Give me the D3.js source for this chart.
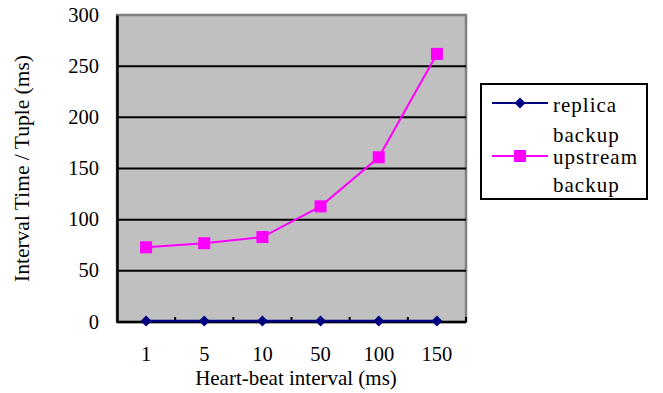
<!DOCTYPE html>
<html>
<head>
<meta charset="utf-8">
<script src="https://cdn.jsdelivr.net/npm/d3@7"></script>
<style>
  body { margin: 0; background: #fff; }
  svg text { font-family: "Liberation Serif", "Times New Roman", serif; fill: #000; }
</style>
</head>
<body>
<svg id="chart" width="663" height="393"></svg>
<script>
// données
const intervals = ["1", "5", "10", "50", "100", "150"];
const replicaBackup = [1, 1, 1, 1, 1, 1];
const upstreamBackup = [73, 77, 83, 113, 161, 262];
const yTicks = [0, 50, 100, 150, 200, 250, 300];
const seriesNames = [["replica", "backup"], ["upstream", "backup"]];
const seriesColors = ["#000080", "#FF00FF"];

const svg = d3.select("#chart");

const plot = { left: 117, top: 15, right: 466, bottom: 322 };

const x = d3.scaleBand()
    .domain(intervals)
    .range([plot.left, plot.right]);

const y = d3.scaleLinear()
    .domain([0, 300])
    .range([plot.bottom, plot.top]);

// fond gris de la zone de tracé
svg.append("rect")
    .attr("x", plot.left)
    .attr("y", plot.top)
    .attr("width", plot.right - plot.left)
    .attr("height", plot.bottom - plot.top)
    .attr("fill", "#C0C0C0")
    .attr("stroke", "#808080")
    .attr("stroke-width", 2.5);

// lignes de grille
svg.append("g")
    .selectAll("line")
    .data(yTicks.filter(d => d > 0 && d < 300))
    .enter()
    .append("line")
    .attr("x1", plot.left)
    .attr("x2", plot.right)
    .attr("y1", d => y(d))
    .attr("y2", d => y(d))
    .attr("stroke", "#000")
    .attr("stroke-width", 2);

// axe Y
const yAxis = svg.append("g")
    .attr("transform", `translate(${plot.left},0)`)
    .call(d3.axisLeft(y).tickValues(yTicks).tickSize(0).tickPadding(18));
yAxis.attr("font-family", null).attr("font-size", null);
yAxis.select(".domain").attr("stroke", "#000").attr("stroke-width", 2.5);
yAxis.selectAll("text")
    .style("font-size", "20.5px")
    .attr("dy", "0.3em");

// axe X (graduations vers l'intérieur, aux frontières des catégories)
const xAxis = svg.append("g")
    .attr("transform", `translate(0,${plot.bottom})`);
xAxis.append("line")
    .attr("x1", plot.left)
    .attr("x2", plot.right)
    .attr("y1", 0)
    .attr("y2", 0)
    .attr("stroke", "#000")
    .attr("stroke-width", 2.5);
xAxis.selectAll(".xtick")
    .data(intervals)
    .enter()
    .append("line")
    .attr("class", "xtick")
    .attr("x1", d => x(d) + x.bandwidth())
    .attr("x2", d => x(d) + x.bandwidth())
    .attr("y1", 0)
    .attr("y2", -5)
    .attr("stroke", "#000")
    .attr("stroke-width", 2);
xAxis.selectAll(".xlabel")
    .data(intervals)
    .enter()
    .append("text")
    .attr("class", "xlabel")
    .attr("x", d => x(d) + x.bandwidth() / 2)
    .attr("y", 39)
    .attr("text-anchor", "middle")
    .style("font-size", "20.5px")
    .text(d => d);

// titres des axes
svg.append("text")
    .attr("x", 296)
    .attr("y", 385)
    .attr("text-anchor", "middle")
    .style("font-size", "21px")
    .text("Heart-beat interval (ms)");

svg.append("text")
    .attr("transform", "translate(29,168.5) rotate(-90)")
    .attr("text-anchor", "middle")
    .style("font-size", "21.5px")
    .text("Interval Time / Tuple (ms)");

// séries
const line = d3.line()
    .x((d, i) => x(intervals[i]) + x.bandwidth() / 2)
    .y(d => y(d));

svg.append("path")
    .datum(upstreamBackup)
    .attr("fill", "none")
    .attr("stroke", seriesColors[1])
    .attr("stroke-width", 2)
    .attr("d", line);

svg.append("path")
    .datum(replicaBackup)
    .attr("fill", "none")
    .attr("stroke", seriesColors[0])
    .attr("stroke-width", 2.5)
    .attr("d", line);

svg.append("g")
    .selectAll("rect")
    .data(upstreamBackup)
    .enter()
    .append("rect")
    .attr("x", (d, i) => x(intervals[i]) + x.bandwidth() / 2 - 6)
    .attr("y", d => y(d) - 6)
    .attr("width", 12)
    .attr("height", 12)
    .attr("fill", seriesColors[1]);

const diamond = d3.symbol().type(d3.symbolSquare).size(60);
svg.append("g")
    .selectAll("path")
    .data(replicaBackup)
    .enter()
    .append("path")
    .attr("d", diamond)
    .attr("transform", (d, i) => `translate(${x(intervals[i]) + x.bandwidth() / 2},${y(d)}) rotate(45)`)
    .attr("fill", seriesColors[0]);

// légende
const legend = svg.append("g");
legend.append("rect")
    .attr("x", 481)
    .attr("y", 84)
    .attr("width", 166)
    .attr("height", 115)
    .attr("fill", "#fff")
    .attr("stroke", "#000")
    .attr("stroke-width", 2);

const legendRows = [103, 156];
const legendBaselines = [[112, 142], [164, 192]];
seriesNames.forEach((name, i) => {
    const ly = legendRows[i];
    legend.append("line")
        .attr("x1", 492)
        .attr("x2", 548)
        .attr("y1", ly)
        .attr("y2", ly)
        .attr("stroke", seriesColors[i])
        .attr("stroke-width", 2);
    if (i === 0) {
        legend.append("path")
            .attr("d", diamond)
            .attr("transform", `translate(520,${ly}) rotate(45)`)
            .attr("fill", seriesColors[i]);
    } else {
        legend.append("rect")
            .attr("x", 514)
            .attr("y", ly - 6)
            .attr("width", 12)
            .attr("height", 12)
            .attr("fill", seriesColors[i]);
    }
    name.forEach((word, j) => {
        legend.append("text")
            .attr("x", 553)
            .attr("y", legendBaselines[i][j])
            .style("font-size", "21px")
            .style("letter-spacing", "1px")
            .text(word);
    });
});
</script>
</body>
</html>
